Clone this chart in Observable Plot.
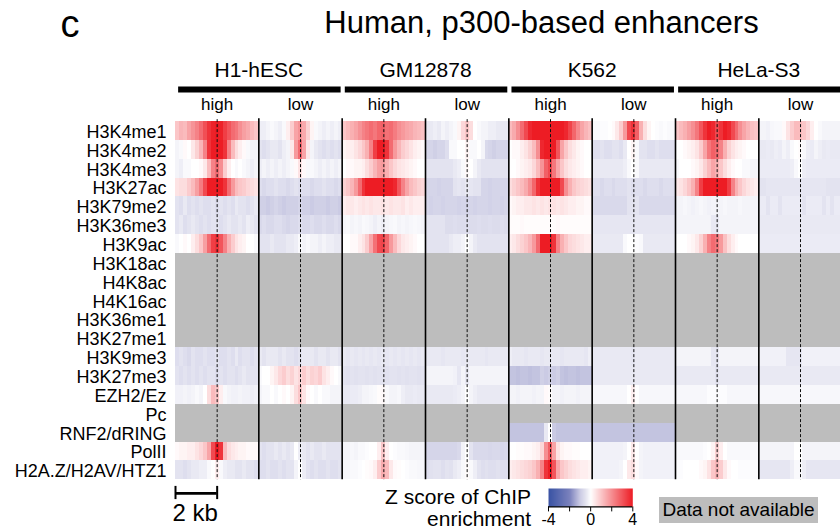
<!DOCTYPE html>
<html><head><meta charset="utf-8">
<script src="https://cdn.jsdelivr.net/npm/d3@7"></script>
<script src="https://cdn.jsdelivr.net/npm/@observablehq/plot@0.6"></script>
<style>
body{margin:0;background:#fff;}
#wrap{position:relative;width:840px;height:531px;overflow:hidden;font-family:"Liberation Sans",Arial,Helvetica,sans-serif;color:#000;}
#wrap svg{position:absolute;left:0;top:0;}
.ann{position:absolute;white-space:nowrap;line-height:1;}
#legendBox{position:absolute;}
</style></head><body>
<div id="wrap">
  <div class="ann" id="panelLetter" style="left:60.5px;top:4.8px;font-size:38px;">c</div>
  <div class="ann" id="title" style="left:541.5px;top:6.8px;font-size:31px;transform:translateX(-50%);"></div>
  <div class="ann" id="zlabel" style="right:309px;top:485.7px;font-size:21px;line-height:22px;text-align:right;"></div>
  <div class="ann" id="na" style="left:659px;top:497px;width:159px;height:26px;background:#bdbdbd;font-size:19px;line-height:26px;text-align:center;"></div>
  <div id="legendBox" style="left:537.7px;top:488.3px;"></div>
</div>
<script>
// ---------------- data ----------------
const titleText = "Human, p300-based enhancers";
const legendLabel = ["Z score of ChIP", "enrichment"];
const naLabel = "Data not available";
const cellLines = ["H1-hESC", "GM12878", "K562", "HeLa-S3"];
const groups = ["high", "low"];
const rowLabels = ["H3K4me1","H3K4me2","H3K4me3","H3K27ac","H3K79me2","H3K36me3","H3K9ac",
  "H3K18ac","H4K8ac","H4K16ac","H3K36me1","H3K27me1","H3K9me3","H3K27me3","EZH2/Ez","Pc",
  "RNF2/dRING","PolII","H2A.Z/H2AV/HTZ1"];
const panelKb = 4;            // each panel spans -2 kb .. +2 kb
const scaleBarKb = 2;
const scaleBarLabel = "2 kb";
const legendTicks = [-4, -2, 0, 2, 4];
const colorStops = [-4, -2, -1, -0.5, 0, 4];
const colorRange = ["#3953a4", "#7b82bd", "#cbcbe4", "#e3e3f0", "#ffffff", "#ed1c24"];
const NA = null;

// Z-score profiles, 21 bins across each panel (row order = rowLabels)
const h1High = [
 [1.0,1.3,1.2,1.6,1.9,2.2,2.6,3.1,3.6,3.9,4.0,3.9,3.4,3.0,2.6,2.4,2.0,1.7,1.5,1.2,1.0],
 [-0.2,-0.1,0.1,0.0,0.4,0.8,1.3,2.2,3.6,4.0,4.0,4.0,3.6,2.2,1.2,0.6,0.3,0.1,-0.1,-0.2,-0.2],
 [-0.2,-0.3,-0.1,-0.1,0.0,0.0,0.1,0.4,1.2,2.2,2.6,2.0,0.9,0.3,0.0,-0.1,0.0,-0.1,-0.2,-0.3,-0.2],
 [0.5,0.6,0.6,0.9,1.2,1.7,2.3,3.2,4.0,4.0,4.0,4.0,3.6,2.6,1.8,1.2,1.0,0.9,0.7,0.6,0.5],
 [-0.5,-0.6,-0.4,-0.6,-0.5,-0.6,-0.5,-0.6,-0.6,-0.5,-0.6,-0.5,-0.6,-0.5,-0.6,-0.4,-0.5,-0.5,-0.6,-0.5,-0.4],
 [-0.5,-0.4,-0.6,-0.5,-0.4,-0.5,-0.6,-0.5,-0.6,-0.5,-0.5,-0.6,-0.5,-0.4,-0.5,-0.5,-0.4,-0.5,-0.3,-0.4,-0.5],
 [-0.1,0.0,0.1,0.0,0.3,0.6,1.0,1.7,2.6,3.4,3.6,3.0,2.2,1.4,0.9,0.5,0.3,0.2,0.0,0.0,-0.1],
 NA, NA, NA, NA, NA,
 [-0.6,-0.5,-0.6,-0.7,-0.5,-0.6,-0.6,-0.5,-0.6,-0.6,-0.5,-0.6,-0.6,-0.5,-0.6,-0.4,-0.6,-0.5,-0.5,-0.6,-0.5],
 [-0.5,-0.6,-0.5,-0.6,-0.5,-0.6,-0.5,-0.6,-0.5,-0.5,-0.6,-0.5,-0.6,-0.5,-0.5,-0.6,-0.5,-0.4,-0.5,-0.5,-0.5],
 [-0.25,-0.25,-0.2,-0.25,-0.2,-0.1,-0.2,0.0,0.6,1.2,1.0,0.3,-0.1,-0.2,-0.25,-0.25,-0.2,-0.25,-0.25,-0.3,-0.25],
 NA, NA,
 [0.1,0.2,0.2,0.3,0.3,0.5,0.7,1.0,1.6,3.2,4.0,3.6,1.2,0.6,0.4,0.3,0.2,0.2,0.1,0.1,0.1],
 [-0.5,-0.5,-0.6,-0.5,-0.4,-0.4,-0.3,-0.3,-0.1,0.0,0.3,-0.1,-0.3,-0.4,-0.4,-0.5,-0.5,-0.4,-0.5,-0.5,-0.6]
];
const h1Low = [
 [-0.3,-0.3,-0.2,-0.1,-0.2,-0.3,-0.1,0.3,0.9,1.6,1.9,1.5,0.8,0.2,-0.1,-0.2,-0.3,-0.2,-0.3,-0.2,-0.3],
 [-0.5,-0.6,-0.5,-0.4,-0.4,-0.5,-0.3,-0.2,0.4,1.8,2.6,1.6,0.4,-0.2,-0.4,-0.5,-0.6,-0.5,-0.6,-0.5,-0.6],
 [-0.3,-0.2,-0.3,-0.2,-0.3,-0.2,-0.3,-0.2,-0.1,0.1,0.5,0.1,-0.1,-0.1,-0.2,-0.3,-0.2,-0.3,-0.2,-0.3,-0.2],
 [-0.6,-0.7,-0.6,-0.6,-0.5,-0.6,-0.6,-0.7,-0.6,-0.5,-0.6,-0.6,-0.6,-0.7,-0.6,-0.6,-0.5,-0.6,-0.6,-0.7,-0.6],
 [-0.9,-0.9,-1.0,-0.9,-0.8,-0.9,-1.0,-0.9,-0.9,-0.9,-0.8,-0.9,-0.9,-1.0,-0.9,-0.9,-0.9,-1.0,-0.9,-0.9,-1.0],
 [-0.7,-0.6,-0.7,-0.7,-0.6,-0.6,-0.7,-0.8,-0.7,-0.7,-0.6,-0.7,-0.7,-0.6,-0.7,-0.7,-0.6,-0.7,-0.7,-0.6,-0.7],
 [-0.5,-0.5,-0.5,-0.4,-0.5,-0.5,-0.5,-0.4,-0.4,-0.3,-0.1,-0.2,-0.1,-0.2,-0.2,-0.3,-0.2,-0.3,-0.3,-0.4,-0.4],
 NA, NA, NA, NA, NA,
 [-0.4,-0.5,-0.4,-0.4,-0.4,-0.5,-0.4,-0.5,-0.5,-0.6,-0.5,-0.4,-0.4,-0.4,-0.5,-0.4,-0.4,-0.5,-0.4,-0.4,-0.5],
 [-0.1,0.0,0.0,0.2,0.4,0.7,0.9,0.6,0.8,0.5,0.7,0.9,0.6,0.8,0.7,0.9,0.5,0.3,0.1,0.0,-0.1],
 [-0.2,-0.1,-0.1,0.0,-0.1,0.0,0.1,0.0,0.2,0.6,1.0,0.5,0.1,0.0,-0.1,0.0,-0.1,-0.1,-0.2,-0.2,-0.2],
 NA, NA,
 [-0.5,-0.6,-0.5,-0.5,-0.4,-0.5,-0.4,-0.5,-0.4,0.0,-0.3,-0.4,-0.5,-0.4,-0.5,-0.5,-0.4,-0.5,-0.5,-0.5,-0.5],
 [-0.6,-0.6,-0.5,-0.6,-0.6,-0.5,-0.6,-0.5,-0.5,-0.2,0.0,-0.3,-0.5,-0.6,-0.5,-0.6,-0.6,-0.5,-0.6,-0.6,-0.5]
];
const gmHigh = [
 [1.0,1.2,1.4,1.6,1.9,2.2,2.4,2.6,2.4,2.7,2.8,2.5,2.6,2.3,2.0,1.8,1.6,1.5,1.3,1.2,1.1],
 [0.2,0.3,0.3,0.5,0.7,1.0,1.4,2.2,3.4,4.0,4.0,3.6,2.6,1.8,1.3,0.9,0.7,0.5,0.3,0.2,0.1],
 [0.0,0.1,0.1,0.2,0.2,0.3,0.6,0.9,1.3,1.7,1.8,1.4,1.0,0.7,0.5,0.4,0.3,0.2,0.1,0.0,0.0],
 [0.8,1.0,1.3,1.8,2.6,3.6,4.0,4.0,4.0,4.0,4.0,4.0,4.0,3.8,3.0,2.2,1.6,1.2,1.0,0.8,0.7],
 [0.3,0.4,0.4,0.3,0.4,0.5,0.4,0.5,0.4,0.4,0.5,0.4,0.5,0.4,0.4,0.5,0.3,0.4,0.3,0.3,0.3],
 [-0.15,-0.1,-0.2,-0.15,-0.2,-0.1,-0.15,-0.2,-0.3,-0.2,-0.3,-0.2,-0.15,-0.1,-0.2,-0.15,-0.2,-0.15,-0.1,-0.15,-0.2],
 [0.0,0.0,0.1,0.1,0.3,0.5,0.9,1.6,2.5,3.2,3.3,2.7,1.8,1.2,0.7,0.4,0.3,0.2,0.1,0.0,0.0],
 NA, NA, NA, NA, NA,
 [-0.4,-0.45,-0.4,-0.45,-0.4,-0.45,-0.4,-0.45,-0.4,-0.45,-0.4,-0.45,-0.4,-0.45,-0.4,-0.45,-0.4,-0.45,-0.4,-0.45,-0.4],
 [-0.5,-0.55,-0.5,-0.55,-0.5,-0.5,-0.55,-0.5,-0.55,-0.5,-0.5,-0.55,-0.5,-0.5,-0.55,-0.5,-0.55,-0.5,-0.5,-0.55,-0.5],
 [-0.4,-0.4,-0.35,-0.35,-0.3,-0.2,-0.2,-0.15,-0.1,0.05,0.1,-0.1,-0.2,-0.2,-0.15,-0.3,-0.4,-0.4,-0.35,-0.4,-0.4],
 NA, NA,
 [-0.2,-0.2,-0.15,-0.2,-0.1,-0.1,-0.05,0.0,0.0,0.3,1.0,0.3,0.0,-0.05,-0.1,-0.1,-0.15,-0.2,-0.2,-0.2,-0.2],
 [-0.15,-0.15,-0.1,-0.1,-0.05,0.0,0.05,0.1,0.3,0.9,1.5,1.2,0.4,0.1,0.05,0.0,-0.05,-0.1,-0.1,-0.15,-0.15]
];
const gmLow = [
 [-0.4,-0.4,-0.3,-0.4,-0.2,-0.3,-0.2,-0.1,0.2,0.7,1.0,0.6,0.0,-0.1,-0.2,-0.2,-0.3,-0.3,-0.4,-0.4,-0.4],
 [-0.8,-0.8,-0.9,-0.8,-0.8,-0.6,-0.1,-0.1,0.0,0.0,0.2,-0.1,-0.1,0.0,-0.2,-0.7,-0.8,-0.9,-0.8,-0.8,-0.8],
 [-0.5,-0.5,-0.5,-0.5,-0.5,-0.5,-0.5,-0.4,-0.3,-0.1,0.1,0.0,-0.2,-0.4,-0.5,-0.5,-0.5,-0.5,-0.5,-0.5,-0.5],
 [-0.8,-0.8,-0.8,-0.85,-0.8,-0.8,-0.8,-0.5,-0.45,-0.5,-0.4,-0.45,-0.5,-0.5,-0.8,-0.8,-0.85,-0.8,-0.8,-0.8,-0.8],
 [-0.8,-0.85,-0.8,-0.8,-0.85,-0.8,-0.8,-0.8,-0.85,-0.8,-0.8,-0.8,-0.85,-0.8,-0.8,-0.8,-0.85,-0.8,-0.8,-0.85,-0.8],
 [-0.5,-0.5,-0.5,-0.5,-0.5,-0.65,-0.65,-0.6,-0.65,-0.65,-0.6,-0.65,-0.65,-0.6,-0.65,-0.65,-0.6,-0.65,-0.65,-0.6,-0.65],
 [-0.5,-0.5,-0.5,-0.5,-0.5,-0.5,-0.4,-0.3,-0.3,-0.2,0.0,-0.2,-0.4,-0.5,-0.5,-0.5,-0.5,-0.5,-0.5,-0.5,-0.5],
 NA, NA, NA, NA, NA,
 [-0.4,-0.4,-0.4,-0.4,-0.45,-0.4,-0.4,-0.4,-0.4,-0.45,-0.4,-0.4,-0.4,-0.4,-0.4,-0.45,-0.4,-0.4,-0.4,-0.4,-0.4],
 [-0.2,-0.2,-0.2,-0.2,-0.2,-0.2,-0.2,-0.25,-0.45,-0.2,-0.4,-0.2,-0.2,-0.2,-0.2,-0.2,-0.2,-0.2,-0.2,-0.2,-0.2],
 [-0.4,-0.4,-0.4,-0.4,-0.4,-0.4,-0.4,-0.35,-0.3,-0.2,0.0,-0.2,-0.3,-0.4,-0.4,-0.4,-0.4,-0.4,-0.4,-0.4,-0.4],
 NA, NA,
 [-0.8,-0.8,-0.8,-0.8,-0.8,-0.8,-0.8,-0.8,-0.7,-0.2,0.0,-0.5,-0.7,-0.7,-0.7,-0.7,-0.75,-0.7,-0.7,-0.75,-0.7],
 [-0.6,-0.55,-0.5,-0.5,-0.6,-0.5,-0.55,-0.4,-0.3,-0.1,0.05,-0.1,-0.3,-0.5,-0.6,-0.55,-0.6,-0.6,-0.55,-0.6,-0.6]
];
const k562High = [
 [1.2,1.5,2.0,2.6,3.2,3.8,4.0,4.0,4.0,4.0,4.0,4.0,4.0,4.0,3.8,3.3,2.7,2.1,1.6,1.3,1.1],
 [0.0,0.1,0.1,0.3,0.5,0.8,1.2,2.0,3.8,4.0,4.0,4.0,3.0,1.6,1.0,0.6,0.4,0.2,0.1,0.0,0.0],
 [0.0,0.0,0.1,0.2,0.3,0.4,0.7,1.2,1.9,2.8,3.2,2.4,1.6,1.0,0.6,0.4,0.3,0.2,0.1,0.0,0.0],
 [0.6,0.8,1.0,1.2,1.5,2.0,2.7,3.6,4.0,4.0,4.0,4.0,4.0,3.2,2.0,1.4,1.0,0.8,0.7,0.6,0.5],
 [0.1,0.2,0.3,0.3,0.4,0.4,0.5,0.4,0.5,0.4,0.5,0.5,0.4,0.5,0.4,0.3,0.3,0.2,0.2,0.1,0.1],
 [0.05,0.05,0.05,0.1,0.05,0.05,0.05,0.05,0.05,0.05,0.05,0.05,0.1,0.05,0.05,0.05,0.05,0.05,0.05,0.05,0.05],
 [0.3,0.4,0.6,0.8,1.0,1.3,1.8,2.6,4.0,4.0,4.0,3.6,2.2,1.4,1.0,0.7,0.6,0.5,0.4,0.3,0.3],
 NA, NA, NA, NA, NA,
 [-0.3,-0.4,-0.4,-0.4,-0.45,-0.4,-0.4,-0.4,-0.45,-0.4,-0.4,-0.4,-0.4,-0.45,-0.4,-0.4,-0.4,-0.4,-0.4,-0.45,-0.3],
 [-1.1,-1.1,-1.15,-1.1,-1.1,-1.15,-1.1,-1.1,-0.9,-1.0,-0.9,-1.0,-0.9,-1.1,-1.15,-1.1,-1.1,-1.15,-1.1,-1.1,-1.1],
 [-0.2,-0.2,-0.25,-0.2,-0.2,-0.2,-0.25,-0.2,-0.2,0.1,0.05,-0.2,-0.2,-0.25,-0.2,-0.2,-0.2,-0.25,-0.2,-0.2,-0.2],
 NA,
 [-1.1,-1.1,-1.1,-1.1,-1.1,-1.1,-1.1,-1.1,-1.1,-0.4,0.0,-1.0,-1.1,-1.1,-1.1,-1.1,-1.1,-1.1,-1.1,-1.1,-1.1],
 [0.0,0.0,0.05,0.05,0.1,0.1,0.2,0.3,0.7,2.0,2.8,1.6,0.5,0.2,0.1,0.1,0.05,0.05,0.0,0.0,0.0],
 [0.3,0.4,0.5,0.6,0.7,0.8,1.0,1.4,2.2,3.6,4.0,3.0,1.6,1.0,0.8,0.6,0.5,0.4,0.3,0.3,0.2]
];
const k562Low = [
 [-0.1,-0.1,-0.05,-0.05,0.0,0.1,0.4,0.9,1.8,3.2,3.6,2.8,1.4,0.6,0.2,0.0,-0.05,-0.1,-0.05,-0.1,-0.1],
 [-0.6,-0.6,-0.5,-0.6,-0.6,-0.5,-0.5,-0.6,-0.4,0.0,0.2,-0.1,-0.5,-0.5,-0.6,-0.6,-0.5,-0.6,-0.6,-0.6,-0.6],
 [-0.4,-0.4,-0.4,-0.4,-0.4,-0.4,-0.4,-0.4,-0.3,-0.1,0.0,-0.1,-0.4,-0.4,-0.4,-0.4,-0.4,-0.4,-0.4,-0.4,-0.4],
 [-0.6,-0.6,-0.7,-0.6,-0.6,-0.7,-0.6,-0.6,-0.6,-0.5,-0.6,-0.6,-0.6,-0.7,-0.6,-0.6,-0.6,-0.7,-0.6,-0.6,-0.6],
 [-0.7,-0.7,-0.7,-0.7,-0.7,-0.7,-0.7,-0.7,-0.7,-0.5,-0.5,-0.5,-0.7,-0.7,-0.7,-0.7,-0.7,-0.7,-0.7,-0.7,-0.7],
 [-0.45,-0.45,-0.45,-0.45,-0.45,-0.45,-0.45,-0.45,-0.45,-0.45,-0.45,-0.45,-0.45,-0.45,-0.45,-0.45,-0.45,-0.45,-0.45,-0.45,-0.45],
 [-0.4,-0.4,-0.4,-0.4,-0.4,-0.4,-0.4,-0.4,-0.1,0.0,0.0,-0.05,-0.1,-0.4,-0.4,-0.4,-0.4,-0.4,-0.4,-0.4,-0.4],
 NA, NA, NA, NA, NA,
 [-0.4,-0.4,-0.4,-0.4,-0.4,-0.4,-0.4,-0.4,-0.4,-0.4,-0.45,-0.4,-0.4,-0.4,-0.4,-0.4,-0.4,-0.4,-0.4,-0.4,-0.4],
 [-0.4,-0.4,-0.4,-0.4,-0.4,-0.4,-0.4,-0.4,-0.4,-0.4,-0.4,-0.4,-0.4,-0.4,-0.4,-0.4,-0.4,-0.4,-0.4,-0.4,-0.4],
 [-0.15,-0.15,-0.15,-0.15,-0.15,-0.15,-0.15,-0.15,-0.15,0.0,0.3,0.0,-0.15,-0.15,-0.15,-0.15,-0.15,-0.15,-0.15,-0.15,-0.15],
 NA,
 [-1.1,-1.1,-1.1,-1.1,-1.1,-1.1,-1.1,-1.1,-1.1,-1.1,-1.1,-1.1,-1.1,-1.1,-1.1,-1.1,-1.1,-1.1,-1.1,-1.1,-1.1],
 [-0.25,-0.25,-0.25,-0.25,-0.25,-0.25,-0.25,-0.25,-0.2,0.0,0.4,0.0,-0.2,-0.25,-0.25,-0.25,-0.25,-0.25,-0.25,-0.25,-0.25],
 [-0.25,-0.25,-0.25,-0.25,-0.25,-0.25,-0.25,-0.2,0.0,0.4,0.6,0.1,-0.2,-0.25,-0.25,-0.25,-0.25,-0.25,-0.25,-0.25,-0.25]
];
const helaHigh = [
 [1.0,1.2,1.4,1.7,2.0,2.4,3.0,3.6,4.0,3.8,3.2,3.6,4.0,3.8,3.2,2.6,2.0,1.6,1.3,1.1,1.0],
 [0.0,0.0,0.1,0.2,0.3,0.5,0.9,1.6,2.4,2.8,2.6,2.2,1.4,0.8,0.5,0.3,0.2,0.1,0.0,0.0,0.0],
 [-0.1,0.0,0.0,0.0,0.1,0.2,0.4,0.8,1.2,1.6,1.4,1.0,0.6,0.3,0.1,0.0,0.0,-0.1,-0.1,-0.2,-0.2],
 [0.4,0.5,0.7,1.0,1.4,2.2,3.4,4.0,4.0,4.0,4.0,4.0,4.0,3.4,2.2,1.4,1.0,0.7,0.5,0.4,0.3],
 [-0.2,-0.2,-0.15,-0.2,-0.25,-0.2,-0.15,-0.2,-0.25,-0.2,-0.2,-0.2,-0.15,-0.2,-0.2,-0.2,-0.15,-0.2,-0.2,-0.2,-0.2],
 [-0.2,-0.2,-0.2,-0.2,-0.2,-0.2,-0.2,-0.2,-0.2,-0.4,-0.4,-0.2,-0.2,-0.2,-0.2,-0.2,-0.2,-0.2,-0.2,-0.2,-0.2],
 [0.0,0.0,0.0,0.1,0.2,0.4,0.8,1.4,2.2,2.6,2.4,1.8,1.1,0.6,0.3,0.1,0.0,0.0,0.0,0.0,0.0],
 NA, NA, NA, NA, NA,
 [-0.2,-0.2,-0.2,-0.2,-0.2,-0.2,-0.2,-0.2,-0.2,-0.45,-0.45,-0.2,-0.2,-0.2,-0.2,-0.2,-0.2,-0.2,-0.2,-0.2,-0.2],
 [-0.4,-0.4,-0.4,-0.4,-0.4,-0.4,-0.4,-0.4,-0.4,-0.4,-0.5,-0.4,-0.4,-0.4,-0.4,-0.4,-0.4,-0.4,-0.4,-0.4,-0.4],
 [-0.15,-0.15,-0.15,-0.15,-0.15,-0.15,-0.15,-0.15,-0.05,-0.05,-0.05,-0.05,-0.05,-0.15,-0.15,-0.15,-0.15,-0.15,-0.15,-0.15,-0.15],
 NA, NA,
 [-0.1,-0.1,-0.1,-0.1,-0.1,-0.1,-0.1,-0.05,0.0,0.2,0.8,0.3,0.0,-0.1,-0.1,-0.1,-0.1,-0.1,-0.1,-0.1,-0.1],
 [-0.05,-0.05,0.0,0.0,0.0,0.0,0.1,0.2,0.5,1.0,1.3,0.9,0.4,0.1,0.0,0.0,-0.05,-0.05,-0.05,-0.05,-0.05]
];
const helaLow = [
 [-0.2,-0.2,-0.25,-0.15,-0.1,-0.1,0.1,0.5,0.9,1.2,1.2,1.0,0.7,0.3,0.0,-0.1,-0.2,-0.2,-0.2,-0.2,-0.2],
 [-0.4,-0.4,-0.35,-0.4,-0.3,-0.35,-0.2,-0.3,-0.1,0.0,0.05,-0.1,-0.3,-0.35,-0.2,-0.3,-0.4,-0.35,-0.4,-0.4,-0.4],
 [-0.35,-0.35,-0.35,-0.35,-0.35,-0.35,-0.35,-0.35,-0.3,-0.1,0.0,-0.3,-0.35,-0.35,-0.35,-0.35,-0.35,-0.35,-0.35,-0.35,-0.35],
 [-0.5,-0.5,-0.45,-0.45,-0.45,-0.45,-0.45,-0.45,-0.45,-0.45,-0.45,-0.45,-0.45,-0.45,-0.45,-0.45,-0.45,-0.5,-0.5,-0.5,-0.5],
 [-0.35,-0.35,-0.5,-0.35,-0.35,-0.5,-0.35,-0.35,-0.35,-0.35,-0.35,-0.5,-0.35,-0.35,-0.35,-0.35,-0.5,-0.35,-0.5,-0.35,-0.35],
 [-0.4,-0.4,-0.4,-0.4,-0.4,-0.4,-0.4,-0.4,-0.4,-0.4,-0.4,-0.4,-0.4,-0.4,-0.4,-0.4,-0.4,-0.4,-0.4,-0.4,-0.4],
 [-0.35,-0.35,-0.35,-0.35,-0.35,-0.35,-0.35,-0.35,-0.35,-0.35,-0.35,-0.35,-0.35,-0.35,-0.35,-0.35,-0.35,-0.35,-0.35,-0.35,-0.35],
 NA, NA, NA, NA, NA,
 [-0.25,-0.25,-0.25,-0.25,-0.25,-0.25,-0.25,-0.45,-0.45,-0.45,-0.45,-0.25,-0.25,-0.25,-0.25,-0.25,-0.25,-0.25,-0.25,-0.25,-0.25],
 [-0.4,-0.4,-0.4,-0.4,-0.4,-0.4,-0.4,-0.4,-0.4,-0.4,-0.4,-0.4,-0.4,-0.4,-0.4,-0.4,-0.4,-0.4,-0.4,-0.4,-0.4],
 [-0.15,-0.15,-0.15,-0.15,-0.15,-0.15,-0.15,-0.15,-0.15,-0.15,-0.15,-0.15,-0.15,-0.15,-0.15,-0.15,-0.15,-0.15,-0.15,-0.15,-0.15],
 NA, NA,
 [-0.2,-0.2,-0.2,-0.2,-0.2,-0.2,-0.2,-0.2,-0.2,0.0,0.0,-0.2,-0.2,-0.2,-0.2,-0.2,-0.2,-0.2,-0.2,-0.2,-0.2],
 [-0.45,-0.45,-0.45,-0.45,-0.45,-0.45,-0.45,-0.45,-0.3,-0.1,-0.1,-0.3,-0.45,-0.45,-0.45,-0.45,-0.45,-0.45,-0.45,-0.45,-0.45]
];
const panels = [h1High, h1Low, gmHigh, gmLow, k562High, k562Low, helaHigh, helaLow];

// ---------------- build tables ----------------
const cells = [], missing = [];
panels.forEach((rows, p) => rows.forEach((vals, r) => {
  if (vals === null) { missing.push({p, r}); return; }
  const n = vals.length;
  vals.forEach((z, b) => cells.push({x1: p * panelKb + b * panelKb / n, x2: p * panelKb + (b + 1) * panelKb / n, r, z}));
}));
const subHeads = panels.map((_, p) => ({p, label: groups[p % 2]}));
const separators = d3.range(1, panels.length).map(p => p * panelKb);
const centers = d3.range(panels.length).map(p => p * panelKb + panelKb / 2);
const nRows = rowLabels.length;

const colorOpts = {type: "linear", domain: colorStops, range: colorRange, interpolate: "rgb", clamp: true};
const FONT = '"Liberation Sans", Arial, Helvetica, sans-serif';

// ---------------- main plot ----------------
const chart = Plot.plot({
  width: 840, height: 531, margin: 0,
  x: {domain: [0, panels.length * panelKb], range: [175, 841.67], axis: null},
  y: {domain: [0, nRows], range: [121, 479.3], axis: null},
  color: colorOpts,
  style: {fontFamily: FONT, background: "transparent", overflow: "visible"},
  marks: [
    Plot.rect(cells, {x1: "x1", x2: "x2", y1: "r", y2: d => d.r + 1, fill: "z", shapeRendering: "crispEdges"}),
    Plot.rect(missing, {x1: d => d.p * panelKb, x2: d => (d.p + 1) * panelKb, y1: "r", y2: d => d.r + 1, fill: "#bdbdbd", shapeRendering: "crispEdges"}),
    Plot.ruleX(centers, {y1: -0.1, y2: nRows, stroke: "#111", strokeWidth: 1, strokeDasharray: "3,2"}),
    Plot.ruleX(separators, {y1: -0.15, y2: nRows, stroke: "#000", strokeWidth: 1.6}),
    // header
    Plot.text(cellLines, {x: (d, i) => i * 2 * panelKb + panelKb, y: -2.386, text: d => d, fontSize: 21, lineAnchor: "bottom", fill: "#000"}),
    Plot.ruleY(cellLines, {x1: (d, i) => i * 2 * panelKb + 0.15, x2: (d, i) => i * 2 * panelKb + 7.95, y: -1.7, stroke: "#000", strokeWidth: 6}),
    Plot.text(subHeads, {x: d => d.p * panelKb + panelKb / 2, y: -0.636, text: "label", fontSize: 17, lineAnchor: "bottom", fill: "#000"}),
    // row labels
    Plot.text(rowLabels, {x: -0.43, y: (d, i) => i + 0.87, text: d => d, textAnchor: "end", lineAnchor: "bottom", fontSize: 18, fill: "#000"}),
    // scale bar
    Plot.ruleY([scaleBarKb], {x1: 0, x2: d => d, y: 19.72, stroke: "#000", strokeWidth: 2.6}),
    Plot.ruleX([0, scaleBarKb], {y1: 19.35, y2: 20.05, stroke: "#000", strokeWidth: 2}),
    Plot.text([scaleBarLabel], {x: scaleBarKb / 2 - 0.05, y: 21.16, text: d => d, fontSize: 24, lineAnchor: "bottom", fill: "#000"})
  ]
});
document.getElementById("wrap").prepend(chart);

// ---------------- colour bar ----------------
const legend = Plot.plot({
  width: 105, height: 42.7, marginLeft: 10, marginRight: 10.7, marginTop: 0, marginBottom: 24.3,
  x: {domain: [-4, 4], ticks: legendTicks, tickFormat: d => (d % 4 === 0 ? String(d) : ""), tickSize: 5, tickPadding: 2, label: null},
  y: {domain: [0, 1], axis: null},
  color: colorOpts,
  style: {fontFamily: FONT, fontSize: "16px", background: "transparent", overflow: "visible"},
  marks: [
    Plot.raster({fill: (x, y) => x, x1: -4, x2: 4, y1: 0, y2: 1, pixelSize: 1}),
    Plot.ruleY([0], {stroke: "#000", strokeWidth: 1.2})
  ]
});
legend.style.position = "static";
document.getElementById("legendBox").appendChild(legend);

// ---------------- annotations ----------------
document.getElementById("title").textContent = titleText;
document.getElementById("zlabel").innerHTML = legendLabel.join("<br>");
document.getElementById("na").textContent = naLabel;
</script>
</body></html>
